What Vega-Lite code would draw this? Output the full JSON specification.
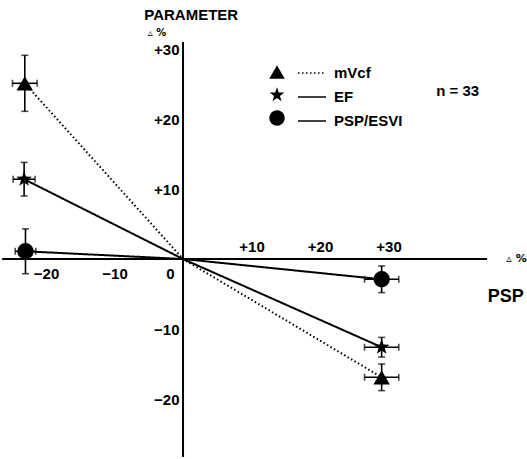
{
  "$schema": "https://vega.github.io/schema/vega-lite/v6.json",
  "width": 527,
  "height": 459,
  "padding": 0,
  "autosize": {"type": "none"},
  "background": "white",
  "config": {"view": {"stroke": null}, "font": "Liberation Sans"},
  "data": {"values": [
    {"series": "mVcf", "x": -23.1, "y": 25.1, "xerr": 1.8, "yerr": 4.0},
    {"series": "mVcf", "x": 0, "y": 0},
    {"series": "mVcf", "x": 29.0, "y": -16.9, "xerr": 2.5, "yerr": 1.9},
    {"series": "EF", "x": -23.2, "y": 11.4, "xerr": 1.6, "yerr": 2.4},
    {"series": "EF", "x": 0, "y": 0},
    {"series": "EF", "x": 29.0, "y": -12.6, "xerr": 2.5, "yerr": 1.4},
    {"series": "PSP/ESVI", "x": -23.0, "y": 1.1, "xerr": 1.5, "yerr": 3.2},
    {"series": "PSP/ESVI", "x": 0, "y": 0},
    {"series": "PSP/ESVI", "x": 29.0, "y": -2.9, "xerr": 2.5, "yerr": 1.9}
  ]},
  "resolve": {"axis": {"x": "independent", "y": "independent"}},
  "layer": [
    {
      "data": {"values": [{}]},
      "mark": {"type": "rule", "color": "black", "strokeWidth": 1.8},
      "encoding": {
        "x": {"datum": -26.4, "type": "quantitative", "scale": {"domain": [-26.72, 50.22], "nice": false, "zero": false}, "axis": null},
        "x2": {"datum": 44.4},
        "y": {"datum": 0, "type": "quantitative", "scale": {"domain": [-28.57, 37.0], "nice": false, "zero": false}, "axis": null}
      }
    },
    {
      "data": {"values": [{}]},
      "mark": {"type": "rule", "color": "black", "strokeWidth": 2},
      "encoding": {
        "x": {"datum": 0, "type": "quantitative", "scale": {"domain": [-26.72, 50.22], "nice": false, "zero": false}, "axis": null},
        "y": {"datum": 31, "type": "quantitative", "scale": {"domain": [-28.57, 37.0], "nice": false, "zero": false}, "axis": null},
        "y2": {"datum": -28.3}
      }
    },
    {
      "mark": {"type": "line", "color": "black", "strokeWidth": 2},
      "encoding": {
        "x": {"field": "x", "type": "quantitative", "scale": {"domain": [-26.72, 50.22], "nice": false, "zero": false},
          "axis": {"orient": "bottom", "offset": -200, "values": [-20, -10, 0], "domain": false, "ticks": false, "grid": false, "title": null, "labelFlush": false,
            "labelPadding": 7, "labelFont": "Liberation Sans", "labelFontWeight": "bold", "labelFontSize": 15, "labelColor": "black",
            "labelOffset": {"condition": {"test": "datum.value === 0", "value": -13}, "value": 0}}},
        "y": {"field": "y", "type": "quantitative", "scale": {"domain": [-28.57, 37.0], "nice": false, "zero": false}, "axis": null},
        "strokeDash": {"field": "series", "type": "nominal", "sort": ["mVcf", "EF", "PSP/ESVI"],
          "scale": {"range": [[1.5, 2.5], [1, 0], [1, 0]]},
          "legend": {"orient": "none", "legendX": 303, "legendY": 64, "title": null, "padding": 0,
            "symbolType": "M-1.75,0L1.75,0", "symbolSize": 256, "symbolStrokeColor": "black", "symbolStrokeWidth": 1.5, "symbolFillColor": "transparent",
            "labelFont": "Liberation Sans", "labelFontWeight": "bold", "labelFontSize": 15, "labelColor": "black", "labelOffset": 13, "rowPadding": 7}}
      }
    },
    {
      "transform": [{"filter": "datum.yerr != null"}],
      "mark": {"type": "errorbar", "ticks": {"size": 7}, "thickness": 1.6, "color": "black"},
      "encoding": {
        "x": {"field": "x", "type": "quantitative", "scale": {"domain": [-26.72, 50.22], "nice": false, "zero": false}, "axis": null},
        "y": {"field": "y", "type": "quantitative", "scale": {"domain": [-28.57, 37.0], "nice": false, "zero": false}, "axis": null},
        "yError": {"field": "yerr"}
      }
    },
    {
      "transform": [{"filter": "datum.xerr != null"}],
      "mark": {"type": "errorbar", "ticks": {"size": 7}, "thickness": 1.6, "color": "black"},
      "encoding": {
        "x": {"field": "x", "type": "quantitative", "scale": {"domain": [-26.72, 50.22], "nice": false, "zero": false}, "axis": null},
        "xError": {"field": "xerr"},
        "y": {"field": "y", "type": "quantitative", "scale": {"domain": [-28.57, 37.0], "nice": false, "zero": false}, "axis": null}
      }
    },
    {
      "transform": [{"filter": "datum.xerr != null"}],
      "mark": {"type": "point", "filled": true, "color": "black", "opacity": 1, "size": 270},
      "encoding": {
        "x": {"field": "x", "type": "quantitative", "scale": {"domain": [-26.72, 50.22], "nice": false, "zero": false},
          "axis": {"orient": "top", "offset": -259, "values": [10, 20, 30], "labelExpr": "'+' + datum.label", "domain": false, "ticks": false, "grid": false, "title": null, "labelFlush": false,
            "labelPadding": 5, "labelFont": "Liberation Sans", "labelFontWeight": "bold", "labelFontSize": 15, "labelColor": "black"}},
        "y": {"field": "y", "type": "quantitative", "scale": {"domain": [-28.57, 37.0], "nice": false, "zero": false},
          "axis": {"orient": "left", "offset": -183, "values": [-20, -10, 10, 20, 30], "labelExpr": "datum.value > 0 ? '+' + datum.label : datum.label", "domain": false, "ticks": false, "grid": false, "title": null,
            "labelPadding": 4, "labelFont": "Liberation Sans", "labelFontWeight": "bold", "labelFontSize": 15, "labelColor": "black"}},
        "shape": {"field": "series", "type": "nominal",
          "scale": {"domain": ["mVcf", "EF", "PSP/ESVI"], "range": ["triangle-up", "M0,-1L0.235,-0.324L0.951,-0.309L0.38,0.124L0.588,0.809L0,0.4L-0.588,0.809L-0.38,0.124L-0.951,-0.309L-0.235,-0.324Z", "circle"]},
          "legend": {"orient": "none", "legendX": 269, "legendY": 64, "title": null, "padding": 0, "symbolSize": 240,
            "symbolFillColor": "black", "symbolStrokeColor": "black", "symbolStrokeWidth": 0, "labelExpr": "''", "labelFontSize": 15, "rowPadding": 7}}
      }
    },
    {
      "data": {"values": [{}]},
      "mark": {"type": "text", "font": "Liberation Sans", "fontWeight": "bold", "fontSize": 15, "color": "black", "align": "center", "baseline": "middle", "text": "PARAMETER"},
      "encoding": {
        "x": {"datum": 1.2, "type": "quantitative", "scale": {"domain": [-26.72, 50.22], "nice": false, "zero": false}, "axis": null},
        "y": {"datum": 34.8, "type": "quantitative", "scale": {"domain": [-28.57, 37.0], "nice": false, "zero": false}, "axis": null}
      }
    },
    {
      "data": {"values": [{}]},
      "mark": {"type": "text", "font": "DejaVu Sans", "fontWeight": "bold", "fontSize": 10, "color": "black", "align": "center", "baseline": "middle", "text": "▵ %"},
      "encoding": {
        "x": {"datum": -3.8, "type": "quantitative", "scale": {"domain": [-26.72, 50.22], "nice": false, "zero": false}, "axis": null},
        "y": {"datum": 32.3, "type": "quantitative", "scale": {"domain": [-28.57, 37.0], "nice": false, "zero": false}, "axis": null}
      }
    },
    {
      "data": {"values": [{}]},
      "mark": {"type": "text", "font": "DejaVu Sans", "fontWeight": "bold", "fontSize": 11, "color": "black", "align": "left", "baseline": "middle", "text": "▵ %"},
      "encoding": {
        "x": {"datum": 47.2, "type": "quantitative", "scale": {"domain": [-26.72, 50.22], "nice": false, "zero": false}, "axis": null},
        "y": {"datum": 0, "type": "quantitative", "scale": {"domain": [-28.57, 37.0], "nice": false, "zero": false}, "axis": null}
      }
    },
    {
      "data": {"values": [{}]},
      "mark": {"type": "text", "font": "Liberation Sans", "fontWeight": "bold", "fontSize": 18, "color": "black", "align": "left", "baseline": "middle", "text": "PSP"},
      "encoding": {
        "x": {"datum": 44.5, "type": "quantitative", "scale": {"domain": [-26.72, 50.22], "nice": false, "zero": false}, "axis": null},
        "y": {"datum": -5.4, "type": "quantitative", "scale": {"domain": [-28.57, 37.0], "nice": false, "zero": false}, "axis": null}
      }
    },
    {
      "data": {"values": [{}]},
      "mark": {"type": "text", "font": "Liberation Sans", "fontWeight": "bold", "fontSize": 15, "color": "black", "align": "center", "baseline": "middle", "text": "n = 33"},
      "encoding": {
        "x": {"datum": 40.1, "type": "quantitative", "scale": {"domain": [-26.72, 50.22], "nice": false, "zero": false}, "axis": null},
        "y": {"datum": 24.0, "type": "quantitative", "scale": {"domain": [-28.57, 37.0], "nice": false, "zero": false}, "axis": null}
      }
    }
  ]
}
